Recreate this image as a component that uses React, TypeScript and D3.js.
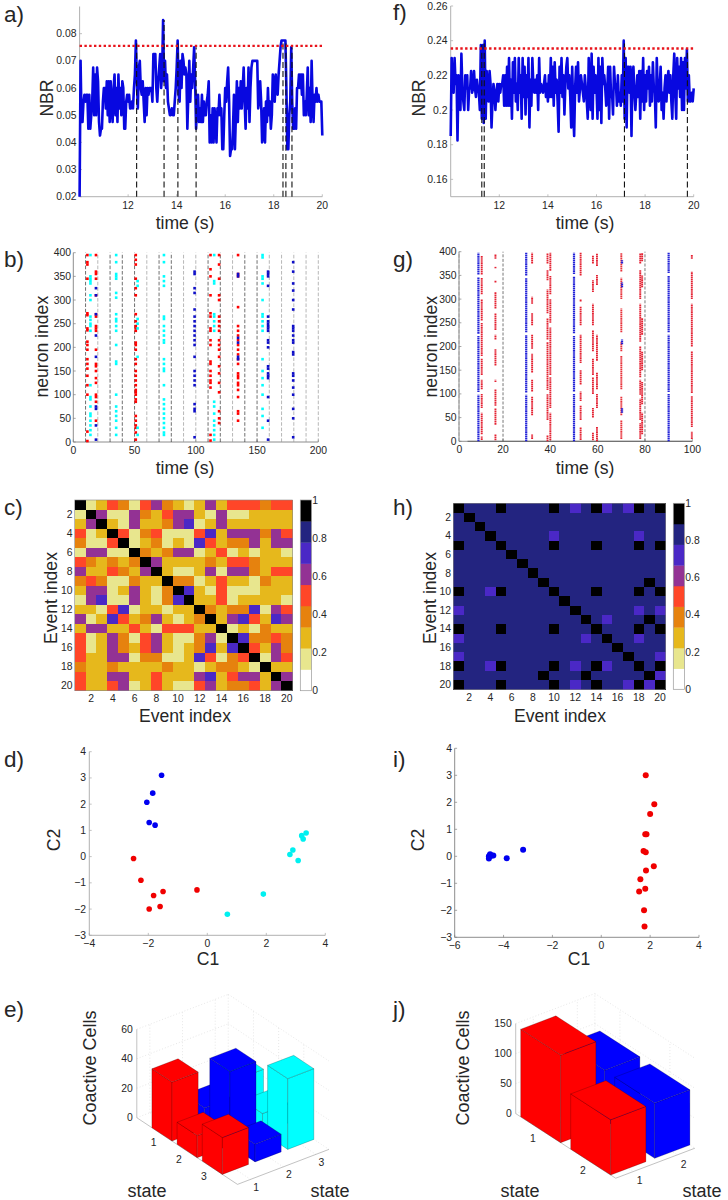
import * as d3 from 'd3';

const FONT = '"Liberation Sans", Arial, sans-serif';
const RED = '#ff0000';
const BLUE = '#0000ff';
const CYAN = '#00ffff';
const DOT_BLUE = '#1010c8';
const LINE_BLUE = '#2020d8';
const LINE_RED = '#e42030';
const AXIS = '#a8a8a8';
const AXIS_DARK = '#808080';
const TEXT = '#262626';

// NBR traces, in coactive neurons out of 400, one sample every 0.04 s
const nbrCountsA = [
  8, 28, 19, 19, 22, 23, 22, 23, 23, 18,
  23, 18, 20, 22, 27, 20, 26, 20, 27, 25,
  19, 17, 18, 18, 22, 24, 24, 21, 25, 20,
  25, 19, 25, 21, 19, 24, 26, 20, 24, 19,
  26, 21, 24, 20, 25, 24, 18, 18, 22, 23,
  22, 23, 21, 21, 22, 21, 24, 26, 31, 25,
  21, 27, 28, 24, 23, 25, 22, 19, 24, 20,
  24, 23, 24, 24, 24, 22, 29, 29, 29, 24,
  22, 25, 27, 29, 24, 26, 34, 25, 28, 24,
  26, 22, 21, 20, 20, 21, 20, 20, 22, 24,
  27, 31, 23, 22, 28, 24, 29, 28, 26, 27,
  26, 18, 23, 28, 22, 26, 24, 27, 30, 25,
  18, 22, 23, 19, 21, 19, 23, 19, 22, 20,
  20, 22, 23, 25, 16, 20, 16, 21, 16, 21,
  19, 16, 21, 20, 23, 20, 21, 15, 15, 20,
  24, 22, 25, 27, 22, 14, 15, 15, 18, 23,
  15, 20, 25, 19, 24, 21, 25, 21, 24, 27,
  22, 18, 24, 21, 27, 19, 24, 27, 28, 28,
  28, 28, 28, 28, 21, 22, 25, 22, 16, 17,
  21, 16, 22, 19, 24, 20, 22, 18, 20, 26,
  25, 22, 26, 24, 23, 26, 28, 30, 31, 31,
  31, 31, 31, 24, 15, 15, 20, 22, 30, 22,
  18, 18, 21, 18, 24, 24, 26, 24, 26, 23,
  26, 20, 22, 20, 23, 27, 20, 24, 19, 28,
  22, 19, 23, 22, 24, 22, 23, 22, 22, 22, 17,
];
const nbrCountsF = [
  74, 92, 85, 84, 92, 86, 88, 73, 88, 85,
  80, 93, 85, 82, 80, 88, 85, 88, 80, 85,
  85, 89, 84, 85, 89, 85, 83, 87, 85, 84,
  80, 95, 78, 95, 77, 96, 78, 89, 86, 82,
  89, 86, 76, 82, 86, 84, 80, 84, 86, 82,
  86, 84, 86, 86, 88, 81, 88, 81, 90, 81,
  92, 81, 87, 78, 91, 84, 92, 82, 86, 80,
  92, 84, 88, 78, 92, 83, 90, 79, 88, 83,
  92, 76, 87, 81, 92, 86, 84, 87, 84, 88,
  80, 92, 84, 86, 85, 84, 86, 88, 83, 86,
  82, 88, 83, 92, 83, 90, 81, 91, 84, 87,
  82, 75, 90, 84, 92, 83, 88, 79, 86, 90,
  92, 85, 88, 83, 76, 90, 80, 74, 85, 90,
  84, 91, 82, 85, 88, 86, 84, 82, 88, 85,
  82, 78, 92, 85, 80, 93, 78, 90, 84, 88,
  85, 78, 92, 80, 90, 77, 92, 86, 88, 85,
  81, 84, 90, 78, 90, 83, 84, 79, 90, 86,
  86, 81, 88, 82, 84, 81, 88, 82, 96, 78,
  92, 76, 90, 90, 84, 90, 74, 88, 90, 84,
  80, 84, 88, 83, 89, 78, 89, 82, 92, 80,
  88, 82, 89, 85, 90, 81, 88, 82, 91, 85,
  84, 76, 92, 85, 82, 85, 90, 80, 84, 78,
  85, 88, 82, 87, 89, 84, 88, 82, 78, 88,
  93, 84, 78, 92, 85, 90, 83, 92, 80, 91,
  80, 92, 85, 94, 82, 88, 82, 82, 84, 82, 85,
];
const eventTimesA = [12.35, 13.48, 14.05, 14.8, 18.38, 18.5, 18.75];
const eventTopsA = [0.0775, 0.085, 0.0775, 0.075, 0.0775, 0.0775, 0.075];
const eventTimesF = [11.28, 11.38, 17.15, 19.74];
const eventTopsF = [0.2375, 0.24, 0.24, 0.235];
const thresholdA = 0.0755;
const thresholdF = 0.2355;
const nbrTicksA = [0.02, 0.03, 0.04, 0.05, 0.06, 0.07, 0.08];
const nbrTicksF = [0.16, 0.18, 0.2, 0.22, 0.24, 0.26];
const timeTicksNbr = [12, 14, 16, 18, 20];

// Raster b: each column holds the neuron indices
const rasterB = [
  { t: 11.5, color: RED, neurons: [2, 22, 100, 120, 140, 155, 165, 175, 195, 205, 212, 236, 240, 268, 272, 345, 375, 380, 395] },
  { t: 14, color: CYAN, neurons: [15, 25, 35, 45, 55, 60, 75, 90, 95, 120, 235, 245, 250, 258, 265, 300, 310, 335, 340, 345, 350, 395] },
  { t: 18.5, color: RED, neurons: [45, 85, 95, 100, 125, 135, 150, 160, 165, 195, 235, 240, 245, 265, 270, 310, 345, 355, 360, 395] },
  { t: 18.5, color: DOT_BLUE, neurons: [5, 35, 70, 75, 180, 225, 270, 310, 325] },
  { t: 35, color: CYAN, neurons: [15, 30, 45, 55, 65, 75, 100, 165, 170, 205, 235, 245, 255, 260, 270, 305, 315, 345, 350, 355, 380, 395] },
  { t: 51, color: RED, neurons: [5, 20, 30, 35, 45, 55, 85, 90, 100, 105, 110, 120, 130, 140, 150, 165, 175, 195, 205, 210, 235, 240, 245, 255, 270, 310, 325, 345, 375, 385, 395] },
  { t: 52.5, color: CYAN, neurons: [15, 30, 180, 240, 250, 260, 330, 340] },
  { t: 74, color: CYAN, neurons: [15, 20, 30, 40, 50, 60, 70, 80, 90, 120, 150, 155, 165, 175, 210, 215, 225, 235, 245, 260, 265, 330, 340, 350, 380, 395] },
  { t: 99, color: DOT_BLUE, neurons: [10, 65, 70, 80, 120, 130, 140, 150, 180, 205, 215, 225, 235, 245, 255, 265, 280, 315, 325, 355, 360] },
  { t: 112, color: RED, neurons: [3, 15, 115, 125, 130, 140, 150, 165, 170, 205, 215, 235, 240, 265, 272, 310, 350, 365, 395] },
  { t: 115, color: CYAN, neurons: [5, 15, 25, 35, 45, 60, 75, 85, 235, 245, 255, 265, 270, 335, 340, 395] },
  { t: 119, color: RED, neurons: [40, 50, 65, 105, 125, 145, 160, 180, 195, 205, 215, 235, 245, 255, 265, 300, 310, 345, 375, 395] },
  { t: 134.5, color: RED, neurons: [45, 60, 65, 95, 110, 120, 125, 135, 140, 145, 165, 175, 185, 195, 205, 215, 225, 235, 245, 285, 350, 355, 395] },
  { t: 134.5, color: DOT_BLUE, neurons: [175, 180, 210, 220, 350, 355] },
  { t: 154.5, color: CYAN, neurons: [30, 55, 70, 100, 120, 135, 150, 175, 235, 245, 255, 265, 270, 300, 335, 345, 350, 390, 395] },
  { t: 159, color: DOT_BLUE, neurons: [5, 45, 95, 135, 140, 145, 155, 160, 200, 210, 215, 235, 240, 245, 250, 255, 265, 330, 350, 355, 360] },
  { t: 179.5, color: DOT_BLUE, neurons: [10, 50, 70, 100, 115, 130, 140, 145, 185, 190, 210, 215, 225, 235, 240, 245, 280, 300, 320, 335, 360, 380] },
];
const windowLinesB = [10, 20, 30, 40, 50, 60, 70, 80, 90, 100, 110, 120, 130, 140, 150, 160, 170, 180, 190, 200];
const darkWindowsB = [10, 30, 40, 50, 70, 80, 110, 120, 140, 150];
const timeTicksB = [0, 50, 100, 150, 200];
const neuronTicks = [0, 50, 100, 150, 200, 250, 300, 350, 400];

// Raster g: columns are so dense that runs of neurons are listed instead
const rasterG = [
  { t: 9.6, color: LINE_BLUE, spans: [[0, 98], [104, 222], [227, 346], [352, 398]] },
  { t: 11, color: LINE_RED, spans: [[3, 10], [15, 60], [70, 100], [110, 130], [140, 175], [180, 250], [255, 300], [310, 345], [352, 392]] },
  { t: 16.8, color: LINE_RED, spans: [[2, 15], [35, 70], [75, 110], [125, 130], [160, 195], [215, 225], [235, 270], [280, 315], [335, 340], [365, 368], [385, 395]] },
  { t: 29.8, color: LINE_BLUE, spans: [[0, 98], [103, 224], [230, 345], [350, 398]] },
  { t: 32.3, color: LINE_RED, spans: [[5, 15], [55, 95], [105, 130], [145, 185], [195, 225], [245, 270], [290, 305], [375, 398]] },
  { t: 38.8, color: LINE_RED, spans: [[0, 12], [45, 100], [108, 210], [215, 260], [270, 320], [340, 362], [375, 396]] },
  { t: 40, color: LINE_RED, spans: [[2, 60], [70, 135], [140, 240], [250, 300], [310, 350], [360, 398]] },
  { t: 50, color: LINE_BLUE, spans: [[0, 100], [105, 222], [228, 348], [353, 398]] },
  { t: 52.8, color: LINE_RED, spans: [[3, 30], [45, 75], [85, 105], [120, 150], [165, 225], [245, 285], [295, 300], [350, 398]] },
  { t: 58, color: LINE_RED, spans: [[2, 18], [50, 70], [100, 135], [140, 175], [190, 235], [245, 290], [315, 340], [375, 392]] },
  { t: 59.7, color: LINE_RED, spans: [[0, 30], [70, 100], [110, 145], [170, 225], [330, 352], [370, 396]] },
  { t: 70, color: '#e8303a', spans: [[5, 45], [55, 95], [110, 180], [190, 210], [230, 280], [300, 345], [358, 398]] },
  { t: 70.3, color: LINE_BLUE, spans: [[60, 70], [205, 215], [325, 335], [375, 382]] },
  { t: 78, color: LINE_RED, spans: [[5, 38], [45, 90], [98, 130], [135, 200], [210, 290], [300, 362], [375, 396]] },
  { t: 78.8, color: LINE_RED, spans: [[15, 60], [78, 125], [150, 190], [225, 260], [325, 350], [380, 398]] },
  { t: 90, color: LINE_BLUE, spans: [[0, 100], [104, 225], [230, 350], [355, 398]] },
  { t: 99.8, color: LINE_RED, spans: [[5, 20], [30, 95], [102, 190], [200, 290], [300, 358], [385, 394]] },
];
const darkWindowsG = [20, 80];
const timeTicksG = [20, 40, 60, 80, 100];

// Event similarity, one character per cell: P pale, G gold, O orange, R red,
// U purple, I indigo, N navy, K black
const colorbarColors = ['#ffffff', '#e8e68e', '#e6b81c', '#e6820e', '#ff4628', '#933294', '#4a28c6', '#232480', '#000000'];
const levelCodes = 'WPGORUINK';
const similarityC = [
  'KPGROPRUOGPGUGRRRORR',
  'PKUPPUOGRUUGPUPPGGGG',
  'GUKGPUGGOUIPGUGGGGGG',
  'RPGKRPORPPPRIGUUUOUR',
  'OPPRKPGOPGPIRGOOUGUU',
  'PUUPPKOGOUUPGRPGPGGP',
  'ROGOGOKUGGGGOGRROGGG',
  'UGGROGUKGPPGUPUUOGRR',
  'OROPPOGGKOOPGRGGPOGG',
  'GUUPGUGPOKIGPRPPPGGG',
  'PUIPPUGPOIKGGRPGGGGP',
  'GGPRIPGGPGGKOGOOIPUR',
  'UPGIRGOUGPGOKGUIRGIU',
  'GUUGGRGPRRRGGKPGPOGG',
  'RPGUOPRUGPPOUPKIOORO',
  'RPGUOGRUGPGOIGIKRGUO',
  'RGGUUPOOPPGIRPORKPUR',
  'OGGOGGGGOGGPGOOGPKGG',
  'RGGUUGGRGGGUIGRUUGKU',
  'RGGRUPGRGPPRUGOORGUK',
];
const similarityH = [
  'KNNNKNNNNKNINKINIKNK',
  'NKNNNNNNNNNNNNNNNNNN',
  'NNKNNNNNNNNNNNNNNNNN',
  'NNNKNNNNNINNNNNNNINN',
  'KNNNKNNNNKNNNKNNNKNK',
  'NNNNNKNNNNNNNNNNNNNN',
  'NNNNNNKNNNNNNNNNNNNN',
  'NNNNNNNKNNNNNNNNNNNN',
  'NNNNNNNNKNNNNNNNNNKN',
  'KNNIKNNNNKNNNKNNNKNK',
  'NNNNNNNNNNKNNNNNNNNN',
  'INNNNNNNNNNKNNNNNINI',
  'NNNNNNNNNNNNKNINNNKN',
  'KNNNKNNNNKNNNKNNNKNK',
  'INNNNNNNNNNNINKNNINN',
  'NNNNNNNNNNNNNNNKNNNN',
  'INNNNNNNNNNNNNNNKNNI',
  'KNNIKNNNNKNINKINNKNK',
  'NNNNNNNNKNNNKNNNNNKI',
  'KNNNKNNNNKNINKNNIKIK',
];
const eventTicks = [2, 4, 6, 8, 10, 12, 14, 16, 18, 20];
const colorbarTicks = [0, 0.2, 0.4, 0.6, 0.8, 1];

// PCA scatter
const scatterD = [
  { color: '#0000f0', xs: [-1.55, -1.85, -2.05, -1.97, -1.77], ys: [3.1, 2.42, 2.07, 1.3, 1.2] },
  { color: '#f00000', xs: [-2.5, -2.25, -1.82, -1.5, -1.6, -1.97, -0.35], ys: [-0.07, -0.9, -1.48, -1.33, -1.9, -2.0, -1.27] },
  { color: '#00f0f0', xs: [0.68, 1.9, 3.08, 2.8, 2.9, 3.25, 3.2, 3.35], ys: [-2.2, -1.43, -0.15, 0.08, 0.25, 0.67, 0.8, 0.9] },
];
const scatterI = [
  { color: '#0000f0', xs: [-4.6, -4.55, -4.6, -4.5, -4.42, -4.55, -3.87, -3.2], ys: [-0.08, 0.08, 0, 0.02, 0.03, 0.05, -0.07, 0.24] },
  { color: '#f00000', xs: [1.82, 2.17, 2, 1.85, 1.8, 1.73, 1.82, 2.15, 1.83, 1.6, 1.8, 1.55, 1.75, 1.77], ys: [3.0, 1.93, 1.57, 0.82, 0.82, 0.2, 0.15, -0.37, -0.53, -0.85, -1.2, -1.3, -2.0, -2.6] },
];
const c1TicksD = [-4, -2, 0, 2, 4];
const c1TicksI = [-6, -4, -2, 0, 2, 4];
const c2Ticks = [-3, -2, -1, 0, 1, 2, 3, 4];

// Coactive cells per state pair: row = first state, column = second state
const coactiveE = [
  [40, 14, 25],
  [15, 50, 13],
  [25, 12, 48],
];
const coactiveJ = [
  [146, 93],
  [92, 92],
];
const columnColorsE = [RED, BLUE, CYAN];
const columnColorsJ = [RED, BLUE];
const coactiveTicksE = [0, 20, 40, 60];
const coactiveTicksJ = [0, 50, 100, 150];

const fmtTick = (v: number) => String(v).replace('-', '\u2212');

const Label = ({ x, y, text, size = 17.6, rotate = false }: any) => (
  <text
    x={x}
    y={y}
    fontSize={size}
    fill={TEXT}
    textAnchor="middle"
    dominantBaseline="central"
    transform={rotate ? `rotate(-90 ${x} ${y})` : undefined}
  >
    {text}
  </text>
);

const Letter = ({ x, y, text }: any) => (
  <text x={x} y={y} fontSize={22.5} fill={TEXT}>
    {text}
  </text>
);

// Left and bottom axis pair with short inward ticks
const Axes = ({ x, y, xTicks, yTicks, xLabelY, yLabelX, color = AXIS, xStart }: any) => {
  const [x0, x1] = x.range();
  const [y0, y1] = y.range();
  const left = xStart ?? x0;
  return (
    <g fontSize={10.4} fill={TEXT}>
      <line x1={left} x2={left} y1={y0} y2={y1} stroke={color} strokeWidth={0.9} />
      <line x1={left} x2={x1} y1={y0} y2={y0} stroke={color} strokeWidth={0.9} />
      {xTicks.map((t: number) => (
        <g key={t}>
          <line x1={x(t)} x2={x(t)} y1={y0} y2={y0 - 2.4} stroke={color} strokeWidth={0.7} />
          <text x={x(t)} y={xLabelY} textAnchor="middle" dominantBaseline="central">
            {fmtTick(t)}
          </text>
        </g>
      ))}
      {yTicks.map((t: number) => (
        <g key={t}>
          <line x1={left} x2={left + 2.4} y1={y(t)} y2={y(t)} stroke={color} strokeWidth={0.7} />
          <text x={yLabelX} y={y(t)} textAnchor="end" dominantBaseline="central">
            {fmtTick(t)}
          </text>
        </g>
      ))}
    </g>
  );
};

const NbrPanel = ({ counts, times, tops, threshold, xRange, yDomain, yRange, yTicks, yLabelX }: any) => {
  const x = d3.scaleLinear().domain([10, 20]).range(xRange);
  const y = d3.scaleLinear().domain(yDomain).range(yRange);
  const sample = d3.scaleLinear().domain([0, counts.length - 1]).range([10, 20]);
  const trace = d3
    .line<number>()
    .x((_, i) => x(sample(i)))
    .y((d) => y(d / 400));
  return (
    <g>
      <Axes x={x} y={y} xTicks={timeTicksNbr} yTicks={yTicks} xLabelY={205} yLabelX={yLabelX} />
      <path d={trace(counts) || ''} fill="none" stroke="#0808e0" strokeWidth={2.6} strokeLinejoin="round" />
      {times.map((t: number, i: number) => (
        <line
          key={t}
          x1={x(t)}
          x2={x(t)}
          y1={y.range()[0]}
          y2={y(tops[i])}
          stroke="#111"
          strokeWidth={1.1}
          strokeDasharray="6 3.2"
        />
      ))}
      <line
        x1={xRange[0]}
        x2={xRange[1]}
        y1={y(threshold)}
        y2={y(threshold)}
        stroke="#e8141c"
        strokeWidth={2.4}
        strokeDasharray="2.4 2.4"
      />
    </g>
  );
};

const Heatmap = ({ rows, xRange, yRange, barX, xLabelY, yLabelX }: any) => {
  const ids = d3.range(1, 21);
  const x = d3.scaleBand<number>().domain(ids).range(xRange);
  const y = d3.scaleBand<number>().domain(ids).range(yRange);
  const level = d3.scaleOrdinal<string, string>().domain(levelCodes.split('')).range(colorbarColors);
  const bar = d3.scaleLinear().domain([0, 1]).range([yRange[1], yRange[0]]);
  const bands = d3.range(colorbarColors.length);
  return (
    <g fontSize={10.4} fill={TEXT}>
      <g shapeRendering="crispEdges">
        {rows.map((row: string, r: number) =>
          row.split('').map((code, c) => (
            <rect
              key={`${r}-${c}`}
              x={x(c + 1)}
              y={y(r + 1)}
              width={x.bandwidth() + 0.7}
              height={y.bandwidth() + 0.7}
              fill={level(code)}
            />
          ))
        )}
      </g>
      <rect x={xRange[0]} y={yRange[0]} width={xRange[1] - xRange[0]} height={yRange[1] - yRange[0]} fill="none" stroke="#888" strokeWidth={0.6} />
      {eventTicks.map((t) => (
        <g key={t}>
          <text x={(x(t) as number) + x.bandwidth() / 2} y={xLabelY} textAnchor="middle" dominantBaseline="central">
            {t}
          </text>
          <text x={yLabelX} y={(y(t) as number) + y.bandwidth() / 2} textAnchor="end" dominantBaseline="central">
            {t}
          </text>
        </g>
      ))}
      {bands.map((b) => (
        <rect
          key={b}
          x={barX}
          y={bar((b + 1) / bands.length)}
          width={11.2}
          height={bar(b / bands.length) - bar((b + 1) / bands.length) + 0.3}
          fill={colorbarColors[b]}
        />
      ))}
      <rect x={barX} y={yRange[0]} width={11.2} height={yRange[1] - yRange[0]} fill="none" stroke="#999" strokeWidth={0.7} />
      {colorbarTicks.map((t) => (
        <text key={t} x={barX + 12} y={bar(t)} dominantBaseline="central">
          {t}
        </text>
      ))}
    </g>
  );
};

const Scatter = ({ groups, xDomain, xRange, yRange, xTicks, xLabelY, yLabelX, radius, axisColor }: any) => {
  const x = d3.scaleLinear().domain(xDomain).range(xRange);
  const y = d3.scaleLinear().domain([-3, 4]).range(yRange);
  return (
    <g>
      <Axes x={x} y={y} xTicks={xTicks} yTicks={c2Ticks} xLabelY={xLabelY} yLabelX={yLabelX} color={axisColor} />
      {groups.map((g: any) =>
        g.xs.map((v: number, i: number) => (
          <circle key={`${g.color}-${i}`} cx={x(v)} cy={y(g.ys[i])} r={radius} fill={g.color} />
        ))
      )}
    </g>
  );
};

// Oblique projection of MATLAB's bar3: a runs along the row axis, b along the column axis
const Bars3D = ({ heights, colors, origin, ex, ey, zDomain, zHeight, aMin, aMax, bMin, bMax, zTicks, rowLabelOffset, colLabelOffset }: any) => {
  const z = d3.scaleLinear().domain(zDomain).range([0, zHeight]);
  const project = (a: number, b: number, h: number): [number, number] => [
    origin[0] + a * ex[0] + b * ey[0],
    origin[1] + a * ex[1] + b * ey[1] - z(h),
  ];
  const poly = (pts: [number, number][]) => (d3.line()(pts) || '') + 'Z';
  const zMax = zDomain[1];
  const rows = d3.range(1, heights.length + 1);
  const cols = d3.range(1, heights[0].length + 1);
  const bars = rows
    .flatMap((r) => cols.map((c) => ({ r, c, h: heights[r - 1][c - 1] })))
    .sort((p, q) => p.r - p.c - (q.r - q.c));
  const w = 0.4;
  const seg = (p: [number, number], q: [number, number], k: string, stroke = '#dcdcdc', dash = '1 2') => (
    <line key={k} x1={p[0]} y1={p[1]} x2={q[0]} y2={q[1]} stroke={stroke} strokeWidth={0.7} strokeDasharray={dash} />
  );
  const leftCorner = project(aMin, bMin, 0);
  const frontCorner = project(aMax, bMin, 0);
  const rightCorner = project(aMax, bMax, 0);
  return (
    <g fontSize={10.4} fill={TEXT}>
      {zTicks.map((t: number) => (
        <g key={t}>
          {seg(project(aMin, bMin, t), project(aMin, bMax, t), `wa${t}`)}
          {seg(project(aMin, bMax, t), project(aMax, bMax, t), `wb${t}`)}
          <text x={leftCorner[0] - 4} y={project(aMin, bMin, t)[1]} textAnchor="end" dominantBaseline="central">
            {t}
          </text>
        </g>
      ))}
      {cols.map((c) => (
        <g key={c}>
          {seg(project(aMin, c, 0), project(aMin, c, zMax), `va${c}`)}
          {seg(project(aMin, c, 0), project(aMax, c, 0), `fa${c}`)}
        </g>
      ))}
      {rows.map((r) => (
        <g key={r}>
          {seg(project(r, bMax, 0), project(r, bMax, zMax), `vb${r}`)}
          {seg(project(r, bMin, 0), project(r, bMax, 0), `fb${r}`)}
        </g>
      ))}
      {seg(project(aMin, bMax, 0), project(aMin, bMax, zMax), 'edge')}
      {seg(leftCorner, project(aMin, bMin, zMax), 'zaxis', AXIS, 'none')}
      {seg(leftCorner, frontCorner, 'rowaxis', AXIS, 'none')}
      {seg(frontCorner, rightCorner, 'colaxis', AXIS, 'none')}
      {rows.map((r) => (
        <text key={r} x={project(r, bMin, 0)[0] + rowLabelOffset[0]} y={project(r, bMin, 0)[1] + rowLabelOffset[1]} textAnchor="middle" dominantBaseline="central">
          {r}
        </text>
      ))}
      {cols.map((c) => (
        <text key={c} x={project(aMax, c, 0)[0] + colLabelOffset[0]} y={project(aMax, c, 0)[1] + colLabelOffset[1]} textAnchor="middle" dominantBaseline="central">
          {c}
        </text>
      ))}
      {bars.map(({ r, c, h }) => {
        const a0 = r - w;
        const a1 = r + w;
        const b0 = c - w;
        const b1 = c + w;
        return (
          <g key={`${r}-${c}`} fill={colors[c - 1]} stroke="#000" strokeOpacity={0.4} strokeWidth={0.5} strokeLinejoin="round">
            <path d={poly([project(a0, b0, 0), project(a1, b0, 0), project(a1, b0, h), project(a0, b0, h)])} />
            <path d={poly([project(a1, b0, 0), project(a1, b1, 0), project(a1, b1, h), project(a1, b0, h)])} />
            <path d={poly([project(a0, b0, h), project(a1, b0, h), project(a1, b1, h), project(a0, b1, h)])} />
          </g>
        );
      })}
    </g>
  );
};

const App = () => {
  const xB = d3.scaleLinear().domain([0, 200]).range([73.3, 318.3]);
  const yB = d3.scaleLinear().domain([0, 400]).range([442, 252.7]);
  const xG = d3.scaleLinear().domain([0, 100]).range([455.7, 692.3]);
  const yG = d3.scaleLinear().domain([0, 400]).range([441.3, 251.7]);
  const gLeft = 459;

  return (
    <svg
      width={728}
      height={1200}
      viewBox="0 0 728 1200"
      style={{ position: 'absolute', left: 0, top: 0, background: '#fff' }}
      fontFamily={FONT}
    >
      <defs>
        <filter id="soft" x="-5%" y="-5%" width="110%" height="110%">
          <feGaussianBlur stdDeviation="0.4" />
        </filter>
      </defs>

      <NbrPanel
        counts={nbrCountsA}
        times={eventTimesA}
        tops={eventTopsA}
        threshold={thresholdA}
        xRange={[79.6, 322.3]}
        yDomain={[0.02, 0.09]}
        yRange={[196.7, 6.5]}
        yTicks={nbrTicksA}
        yLabelX={76.5}
      />
      <NbrPanel
        counts={nbrCountsF}
        times={eventTimesF}
        tops={eventTopsF}
        threshold={thresholdF}
        xRange={[450.7, 693.7]}
        yDomain={[0.15, 0.26]}
        yRange={[196.7, 6]}
        yTicks={nbrTicksF}
        yLabelX={447.5}
      />
      <Letter x={4} y={22} text="a)" />
      <Letter x={393} y={20} text="f)" />
      <Label x={46.7} y={98} text="NBR" rotate />
      <Label x={419} y={98} text="NBR" rotate />
      <Label x={185} y={222.7} text="time (s)" />
      <Label x={585} y={222.7} text="time (s)" />

      {/* b) raster */}
      <Axes x={xB} y={yB} xTicks={timeTicksB} yTicks={neuronTicks} xLabelY={450.7} yLabelX={71} color={AXIS_DARK} />
      {windowLinesB.map((t) => (
        <line
          key={t}
          x1={xB(t)}
          x2={xB(t)}
          y1={yB(0)}
          y2={yB(400)}
          stroke={darkWindowsB.includes(t) ? '#333' : '#999'}
          strokeWidth={0.7}
          strokeDasharray="3.6 1.8"
        />
      ))}
      <g filter="url(#soft)">
        {rasterB.map((col, i) =>
          col.neurons.map((n) => (
            <rect key={`${i}-${n}`} x={xB(col.t) - 1.3} y={yB(n) - 1.3} width={2.6} height={2.6} fill={col.color} />
          ))
        )}
      </g>
      <Letter x={4} y={267} text="b)" />
      <Label x={41.7} y={346.7} text="neuron index" rotate />
      <Label x={185} y={467.7} text="time (s)" />

      {/* g) raster */}
      <Axes x={xG} y={yG} xTicks={timeTicksG} yTicks={neuronTicks} xLabelY={449} yLabelX={456.5} xStart={gLeft} color={AXIS_DARK} />
      <text x={459.5} y={449.5} fontSize={10.4} fill={TEXT} textAnchor="middle" dominantBaseline="central">
        0
      </text>
      <line x1={gLeft} x2={gLeft} y1={yG(0)} y2={yG(400)} stroke="#999" strokeWidth={0.8} strokeDasharray="3.6 1.8" />
      <line x1={xG(5)} x2={xG(100)} y1={yG(0)} y2={yG(0)} stroke="#666" strokeWidth={1} />
      {darkWindowsG.map((t) => (
        <line key={t} x1={xG(t)} x2={xG(t)} y1={yG(0)} y2={yG(400)} stroke="#555" strokeWidth={0.8} strokeDasharray="3 1.6" />
      ))}
      <g filter="url(#soft)">
        {rasterG.map((col, i) =>
          col.spans.map(([a, b]) => (
            <line
              key={`${i}-${a}`}
              x1={xG(col.t)}
              x2={xG(col.t)}
              y1={yG(a)}
              y2={yG(b)}
              stroke={col.color}
              strokeWidth={col.color === LINE_BLUE ? 2.2 : 1.9}
              strokeDasharray="1.6 0.5"
            />
          ))
        )}
      </g>
      <Letter x={393} y={267} text="g)" />
      <Label x={430.7} y={346.7} text="neuron index" rotate />
      <Label x={585} y={467.7} text="time (s)" />

      {/* c) h) similarity matrices */}
      <Heatmap rows={similarityC} xRange={[74.7, 292.3]} yRange={[500, 690.7]} barX={300.3} xLabelY={698.5} yLabelX={72.5} />
      <Heatmap rows={similarityH} xRange={[453.3, 665.3]} yRange={[503.3, 689.3]} barX={673.3} xLabelY={697} yLabelX={451} />
      <Letter x={4} y={515} text="c)" />
      <Letter x={393} y={515} text="h)" />
      <Label x={51} y={598} text="Event index" rotate />
      <Label x={185} y={715.5} text="Event index" />
      <Label x={430} y={598} text="Event index" rotate />
      <Label x={560} y={715.5} text="Event index" />

      {/* d) i) PCA scatter */}
      <Scatter groups={scatterD} xDomain={[-4, 4]} xRange={[89.3, 325.3]} yRange={[935.3, 751.7]} xTicks={c1TicksD} xLabelY={943.5} yLabelX={86} radius={2.8} axisColor={AXIS} />
      <Scatter groups={scatterI} xDomain={[-6, 4]} xRange={[454.7, 699]} yRange={[937.3, 748.3]} xTicks={c1TicksI} xLabelY={945} yLabelX={452} radius={3} axisColor={AXIS_DARK} />
      <Letter x={4} y={767} text="d)" />
      <Letter x={393} y={767} text="i)" />
      <Label x={54} y={840} text="C2" rotate />
      <Label x={208} y={958.5} text="C1" />
      <Label x={418} y={840} text="C2" rotate />
      <Label x={579} y={958.5} text="C1" />

      {/* e) j) coactive cells */}
      <Bars3D
        heights={coactiveE}
        colors={columnColorsE}
        origin={[117.2, 1125.2]}
        ex={[25.17, 16.67]}
        ey={[32.67, -12.5]}
        zDomain={[0, 60]}
        zHeight={88.4}
        aMin={0}
        aMax={4}
        bMin={0.6}
        bMax={3.4}
        zTicks={coactiveTicksE}
        rowLabelOffset={[-8.3, 8.3]}
        colLabelOffset={[5.6, 8]}
      />
      <Bars3D
        heights={coactiveJ}
        colors={columnColorsJ}
        origin={[464.3, 1107.4]}
        ex={[50, 32.33]}
        ey={[44, -16.67]}
        zDomain={[0, 150]}
        zHeight={90}
        aMin={0.5}
        aMax={2.5}
        bMin={0.6}
        bMax={2.4}
        zTicks={coactiveTicksJ}
        rowLabelOffset={[-7.7, 8.7]}
        colLabelOffset={[6.3, 9.3]}
      />
      <Letter x={4} y={1017} text="e)" />
      <Letter x={393} y={1017} text="j)" />
      <Label x={90} y={1068} text="Coactive Cells" rotate size={18} />
      <Label x={463} y={1068} text="Coactive Cells" rotate size={18} />
      <Label x={147} y={1190.5} text="state" size={18} />
      <Label x={330} y={1190.5} text="state" size={18} />
      <Label x={520} y={1190.5} text="state" size={18} />
      <Label x={702} y={1190.5} text="state" size={18} />
    </svg>
  );
};

export default App;
